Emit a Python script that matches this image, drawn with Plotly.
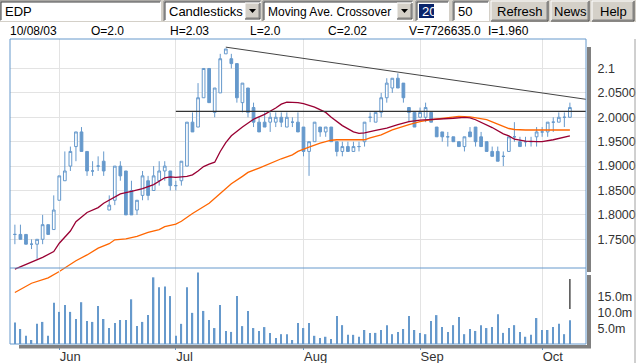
import pandas as pd
import plotly.graph_objects as go

# ---------------- data ----------------
dates = pd.bdate_range("2003-05-21", "2003-10-08")
month_labels = ["Jun", "Jul", "Aug", "Sep", "Oct"]
month_starts = ["2003-06-02", "2003-07-01", "2003-08-01", "2003-09-01", "2003-10-01"]

opens = [1.76, 1.76, 1.76, 1.74, 1.74, 1.75, 1.78, 1.77, 1.83, 1.87,
         1.90, 1.94, 1.97, 1.93, 1.89, 1.90, 1.91, 1.81, 1.83, 1.90,
         1.89, 1.85, 1.81, 1.84, 1.87, 1.85, 1.87, 1.89, 1.89, 1.86,
         1.87, 1.90, 1.99, 1.98, 2.04, 2.10, 2.01, 2.05, 2.13, 2.12,
         2.11, 2.03, 2.06, 2.02, 1.99, 1.99, 1.99, 1.99, 2.00, 1.98,
         1.99, 1.99, 1.98, 1.93, 1.95, 1.98, 1.97, 1.98, 1.95, 1.93,
         1.94, 1.93, 1.94, 1.95, 2.00, 1.99, 2.01, 2.04, 2.06, 2.08,
         2.07, 2.02, 2.01, 2.00, 2.00, 2.01, 1.98, 1.97, 1.96, 1.96,
         1.95, 1.94, 1.97, 1.98, 1.96, 1.95, 1.93, 1.93, 1.92, 1.93,
         1.96, 1.95, 1.95, 1.95, 1.96, 1.97, 1.97, 1.99, 1.99, 2.00,
         2.00]
highs = [1.78, 1.78, 1.76, 1.75, 1.75, 1.80, 1.78, 1.84, 1.88, 1.93,
         1.94, 1.97, 1.98, 1.93, 1.91, 1.92, 1.93, 1.84, 1.90, 1.91,
         1.89, 1.87, 1.83, 1.89, 1.88, 1.90, 1.91, 1.91, 1.89, 1.87,
         1.91, 1.99, 2.01, 2.07, 2.10, 2.10, 2.06, 2.13, 2.14, 2.13,
         2.11, 2.07, 2.06, 2.03, 2.00, 2.01, 2.01, 2.01, 2.01, 2.01,
         2.00, 2.01, 1.98, 1.95, 1.99, 1.98, 1.98, 1.98, 1.95, 1.95,
         1.95, 1.95, 1.95, 1.99, 2.01, 2.01, 2.05, 2.08, 2.08, 2.09,
         2.07, 2.02, 2.01, 2.02, 2.03, 2.01, 1.98, 1.97, 1.97, 1.96,
         1.95, 1.96, 1.98, 1.98, 1.97, 1.95, 1.94, 1.94, 1.93, 1.96,
         1.99, 1.96, 1.96, 1.96, 1.98, 1.98, 1.99, 2.00, 2.01, 2.01,
         2.03]
lows = [1.74, 1.75, 1.74, 1.73, 1.71, 1.74, 1.76, 1.77, 1.83, 1.87,
        1.89, 1.91, 1.93, 1.88, 1.88, 1.89, 1.88, 1.81, 1.82, 1.87,
        1.80, 1.80, 1.80, 1.83, 1.83, 1.85, 1.86, 1.87, 1.85, 1.85,
        1.86, 1.90, 1.97, 1.98, 2.04, 2.03, 2.00, 2.05, 2.13, 2.10,
        2.03, 2.01, 2.00, 1.98, 1.97, 1.98, 1.97, 1.98, 1.98, 1.98,
        1.98, 1.97, 1.92, 1.88, 1.95, 1.96, 1.96, 1.95, 1.92, 1.92,
        1.93, 1.93, 1.93, 1.94, 1.99, 1.99, 2.00, 2.03, 2.05, 2.06,
        2.03, 1.99, 1.98, 2.00, 1.99, 1.99, 1.96, 1.95, 1.94, 1.95,
        1.94, 1.93, 1.96, 1.94, 1.94, 1.93, 1.92, 1.91, 1.90, 1.93,
        1.95, 1.94, 1.94, 1.94, 1.94, 1.96, 1.96, 1.97, 1.99, 1.98,
        2.00]
closes = [1.76, 1.75, 1.74, 1.74, 1.75, 1.78, 1.76, 1.81, 1.88, 1.89,
          1.93, 1.97, 1.93, 1.89, 1.89, 1.90, 1.89, 1.82, 1.90, 1.88,
          1.80, 1.80, 1.83, 1.88, 1.84, 1.88, 1.89, 1.90, 1.86, 1.86,
          1.91, 1.99, 1.97, 2.04, 2.10, 2.03, 2.06, 2.12, 2.14, 2.11,
          2.04, 2.07, 2.01, 1.99, 1.97, 1.98, 2.00, 2.00, 1.99, 2.00,
          1.99, 1.97, 1.93, 1.95, 1.99, 1.97, 1.98, 1.95, 1.93, 1.94,
          1.93, 1.94, 1.94, 1.99, 2.00, 2.01, 2.04, 2.07, 2.08, 2.06,
          2.04, 2.01, 1.98, 2.01, 2.02, 1.99, 1.96, 1.96, 1.96, 1.95,
          1.94, 1.96, 1.96, 1.95, 1.94, 1.93, 1.92, 1.91, 1.92, 1.96,
          1.96, 1.94, 1.95, 1.95, 1.97, 1.97, 1.99, 1.99, 2.00, 2.00,
          2.02]
volume_m = [7.0, 5.0, 2.9, 1.6, 6.6, 7.2, 2.9, 13.1, 10.3, 12.4,
            10.3, 8.1, 13.3, 7.5, 7.2, 12.1, 8.1, 5.3, 6.9, 7.8,
            7.8, 14.2, 5.9, 7.2, 9.3, 21.0, 17.9, 18.2, 15.2, 2.9,
            6.6, 17.9, 10.0, 22.5, 10.6, 7.8, 5.3, 12.4, 4.4, 4.1,
            15.2, 5.9, 10.6, 5.3, 4.4, 5.6, 3.8, 2.2, 3.4, 3.4,
            1.6, 6.9, 5.3, 6.9, 2.9, 2.2, 2.6, 1.9, 9.0, 6.2,
            3.2, 3.2, 2.6, 4.7, 3.8, 3.8, 4.7, 6.2, 3.4, 4.1,
            5.0, 9.0, 4.7, 3.8, 3.4, 7.5, 9.3, 5.6, 4.1, 6.2,
            8.7, 3.4, 5.0, 4.4, 6.2, 5.3, 5.6, 9.6, 3.8, 5.3,
            6.2, 4.1, 2.6, 3.2, 8.4, 4.7, 4.7, 5.6, 6.6, 3.4,
            7.726635]

# moving averages (day index, value)
ma20_idx = [0, 3, 5, 7, 8, 10, 11, 13, 15, 16, 18, 19, 21, 23, 25, 27, 28, 29, 31, 32,
            33, 34, 35, 36, 37, 38, 39, 41, 43, 45, 47, 48, 49, 50, 51, 52, 54, 56, 57, 59,
            61, 62, 63, 65, 67, 69, 71, 73, 75, 77, 79, 81, 82, 83, 84, 86, 88, 89, 90, 92,
            94, 95, 97, 98, 100]
ma20_val = [1.689, 1.704, 1.713, 1.725, 1.742, 1.767, 1.786, 1.805, 1.815, 1.824, 1.836, 1.843,
            1.848, 1.854, 1.862, 1.876, 1.878, 1.877, 1.879, 1.882, 1.890, 1.899, 1.904, 1.908,
            1.930, 1.948, 1.962, 1.980, 1.996, 2.006, 2.019, 2.027, 2.031, 2.031, 2.030, 2.028,
            2.021, 2.010, 2.000, 1.983, 1.970, 1.967, 1.968, 1.973, 1.978, 1.985, 1.991, 1.994,
            1.995, 1.996, 1.998, 2.000, 1.999, 1.995, 1.990, 1.979, 1.966, 1.962, 1.955, 1.951,
            1.950, 1.950, 1.954, 1.957, 1.962]
ma50_idx = [0, 3, 6, 8, 11, 13, 15, 17, 18, 20, 22, 24, 26, 27, 29, 30, 32, 35, 37, 39,
            41, 42, 44, 46, 48, 50, 51, 53, 55, 57, 58, 63, 64, 66, 68, 71, 73, 75, 77, 79,
            80, 82, 83, 85, 87, 89, 90, 92, 100]
ma50_val = [1.641, 1.660, 1.671, 1.684, 1.706, 1.718, 1.732, 1.741, 1.749, 1.751, 1.756, 1.764,
            1.770, 1.776, 1.781, 1.787, 1.803, 1.824, 1.844, 1.864, 1.879, 1.887, 1.896, 1.906,
            1.915, 1.923, 1.930, 1.939, 1.947, 1.953, 1.954, 1.954, 1.958, 1.964, 1.974, 1.985,
            1.991, 1.995, 1.998, 2.001, 2.002, 2.001, 1.999, 1.995, 1.986, 1.977, 1.975, 1.974,
            1.974]

# drawn study lines
hline_idx = [29, 103]
hline_val = [2.012, 2.012]
trend_idx = [38, 103]
trend_val = [2.1437, 2.0367]
cursor_vol_m = [11.2, 20.5]

price_ticks = [1.75, 1.80, 1.85, 1.90, 1.95, 2.00, 2.05, 2.10]
price_ticktext = ["1.7500", "1.8000", "1.8500", "1.9000", "1.9500", "2.0000", "2.0500", "2.1"]
vol_ticks_m = [5, 10, 15]
vol_ticktext = ["5.0m", "10.0m", "15.0m"]

header_items = ["10/08/03", "O=2.0", "H=2.03", "L=2.0", "C=2.02", "V=7726635.0", "I=1.960"]

# ---------------- figure ----------------
idx = list(range(len(dates)))
date_str = [d.strftime("%Y-%m-%d") for d in dates]
month_idx = [date_str.index(m) for m in month_starts]
volume = [v * 1e6 for v in volume_m]

BLUE = "#6699CC"
FONT = "Liberation Sans, Arial, sans-serif"

fig = go.Figure()
fig.add_trace(go.Bar(x=idx, y=volume, width=0.26, marker=dict(color=BLUE, line=dict(width=0)),
                     xaxis="x", yaxis="y2", hoverinfo="skip"))
fig.add_trace(go.Scatter(x=[idx[-1], idx[-1]], y=[v * 1e6 for v in cursor_vol_m], mode="lines",
                         line=dict(color="#222222", width=1.2), xaxis="x", yaxis="y2", hoverinfo="skip"))
fig.add_trace(go.Scatter(x=ma50_idx, y=ma50_val, mode="lines", line=dict(color="#FF6600", width=1.3),
                         xaxis="x", yaxis="y", hoverinfo="skip"))
fig.add_trace(go.Scatter(x=ma20_idx, y=ma20_val, mode="lines", line=dict(color="#990033", width=1.3),
                         xaxis="x", yaxis="y", hoverinfo="skip"))
fig.add_trace(go.Scatter(x=hline_idx, y=hline_val, mode="lines", line=dict(color="#333333", width=1.2),
                         xaxis="x", yaxis="y", hoverinfo="skip"))
fig.add_trace(go.Scatter(x=trend_idx, y=trend_val, mode="lines", line=dict(color="#444444", width=1),
                         xaxis="x", yaxis="y", hoverinfo="skip"))
fig.add_trace(go.Candlestick(x=idx, open=opens, high=highs, low=lows, close=closes,
                             increasing=dict(line=dict(color=BLUE, width=1), fillcolor="white"),
                             decreasing=dict(line=dict(color=BLUE, width=1), fillcolor=BLUE),
                             whiskerwidth=0, xaxis="x", yaxis="y", hoverinfo="skip"))

# ---------------- geometry helpers (pixel -> paper) ----------------
L, R, T, B = 10, 586, 39, 344
W, H = R - L, B - T
def px(x):
    return (x - L) / W
def py(y):
    return (B - y) / H

shapes = []
annotations = []

def rect(x0, y0, x1, y1, fill, line=None, lw=1):
    shapes.append(dict(type="rect", xref="paper", yref="paper", x0=px(x0), x1=px(x1),
                       y0=py(y1), y1=py(y0), fillcolor=fill,
                       line=dict(color=line if line else fill, width=lw if line else 0), layer="above"))

def seg(x0, y0, x1, y1, color, lw=1):
    shapes.append(dict(type="line", xref="paper", yref="paper", x0=px(x0), x1=px(x1),
                       y0=py(y0), y1=py(y1), line=dict(color=color, width=lw), layer="above"))

def text(x, y, s, size=12, color="black", anchor="left"):
    annotations.append(dict(xref="paper", yref="paper", x=px(x), y=py(y), text=s, showarrow=False,
                            xanchor=anchor, yanchor="middle", font=dict(family=FONT, size=size, color=color)))

# toolbar
rect(0, 0, 636, 22, "#D4D0C8")
def sunken(x0, x1):
    rect(x0, 1, x1, 21, "white")
    seg(x0, 1, x1, 1, "#808080"); seg(x0, 1, x0, 21, "#808080")
    seg(x0 + 1, 2, x1 - 1, 2, "#404040"); seg(x0 + 1, 2, x0 + 1, 20, "#404040")
def button(x0, x1, label, y0=1, y1=21):
    rect(x0, y0, x1, y1, "#D4D0C8")
    seg(x0, y0, x1, y0, "white"); seg(x0, y0, x0, y1, "white")
    seg(x0, y1, x1, y1, "#404040"); seg(x1, y0, x1, y1, "#404040")
    seg(x0 + 1, y1 - 1, x1 - 1, y1 - 1, "#808080"); seg(x1 - 1, y0 + 1, x1 - 1, y1 - 1, "#808080")
    if label:
        text((x0 + x1) / 2, (y0 + y1) / 2 + 0.5, label, size=13, anchor="center")
def arrow(x0, x1):
    button(x0, x1, None, 3, 19)
    cx = (x0 + x1) / 2
    shapes.append(dict(type="path", xref="paper", yref="paper",
                       path="M %f %f L %f %f L %f %f Z" % (px(cx - 3.5), py(9), px(cx + 3.5), py(9), px(cx), py(13)),
                       fillcolor="black", line=dict(color="black", width=0), layer="above"))

sunken(0, 161); text(3, 11, "EDP", size=13)
sunken(164, 261); text(167, 11.5, "Candlesticks", size=13); arrow(245, 260)
sunken(263, 413); text(266, 11.5, "Moving Ave. Crossover", size=12); arrow(397, 412)
sunken(416, 449); rect(419, 4, 434, 18, "#0A246A"); text(419.5, 11, "20", size=13, color="white")
sunken(453, 489); text(456, 11, "50", size=13)
button(491, 548, "Refresh"); button(551, 589, "News"); button(592, 634, "Help")

# info row
for s, x in zip(header_items, [8, 89, 168, 248, 326, 407, 486]):
    text(x, 31, s)

# shadows
rect(587, 47, 591, 272, "#808080")
rect(587, 275, 591, 348, "#808080")
rect(19, 345, 591, 348.5, "#808080")
seg(635, 39, 635, 363, "#A0A0A0")
# frame
seg(L, T, R, T, BLUE); seg(L, B, R, B, BLUE)
seg(L, T, L, B, BLUE); seg(R, T, R, B, BLUE)
seg(L, 268, R, 268, BLUE)

vol_top = (B - 268) / H
YFONT = dict(family=FONT, size=12.5, color="#333333")

fig.update_layout(
    width=636, height=363,
    margin=dict(l=L, r=636 - R, t=T, b=363 - B, autoexpand=False),
    paper_bgcolor="white", plot_bgcolor="rgba(0,0,0,0)",
    showlegend=False, barmode="overlay",
    font=dict(family=FONT, size=12, color="#333333"),
    shapes=shapes, annotations=annotations,
    xaxis=dict(domain=[0, 1], range=[-0.88, 102.9], tickvals=month_idx, ticktext=month_labels,
               ticklabelposition="outside right", ticks="outside", ticklen=5, tickcolor=BLUE,
               automargin=False,
               showgrid=True, gridcolor="#E3E3E3", gridwidth=1, zeroline=False, showline=False,
               rangeslider=dict(visible=False), anchor="y",
               tickfont=dict(family=FONT, size=13, color="#333333")),
    yaxis=dict(domain=[0, 1], range=[1.5355, 2.1604], side="right", tickvals=price_ticks,
               ticktext=price_ticktext, ticks="outside", ticklen=4, tickcolor=BLUE,
               ticklabelstandoff=4, automargin=False,
               showgrid=True, gridcolor="#E3E3E3", zeroline=False, showline=False, anchor="x",
               tickfont=YFONT),
    yaxis2=dict(domain=[0, vol_top], range=[0.36e6, 23.89e6], side="right",
                tickvals=[v * 1e6 for v in vol_ticks_m], ticktext=vol_ticktext,
                ticks="outside", ticklen=4, tickcolor=BLUE, ticklabelstandoff=4, automargin=False,
                showgrid=False, zeroline=False,
                showline=False, anchor="x", tickfont=YFONT),
)

fig.write_html("out.html", config={"displayModeBar": False},
               post_script="document.body.style.margin='0';document.body.style.overflow='hidden';")
